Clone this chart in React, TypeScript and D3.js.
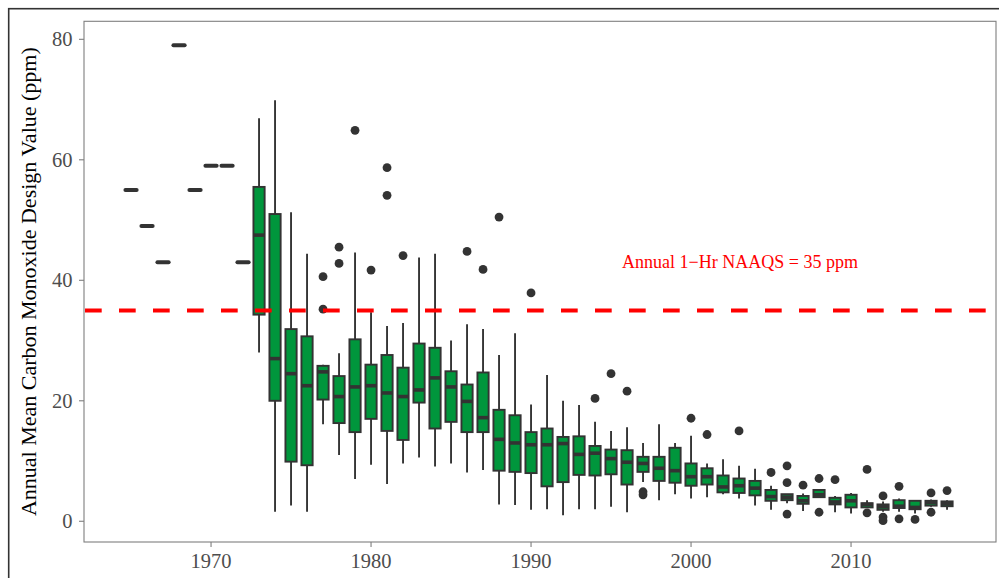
import React from "react";
import * as d3 from "d3";

const years = d3.range(1965, 2017);
// five-number summaries per year (ppm)
const lowerWhisker = [55, 49, 43, 79, 55, 59, 59, 43, 28.0, 1.6, 2.6, 1.6, 16.1, 11.0, 7.0, 9.4, 6.2, 9.6, 10.6, 9.1, 9.6, 8.1, 8.5, 2.8, 2.7, 1.9, 2.0, 1.0, 2.0, 2.0, 2.4, 1.5, 6.5, 3.5, 4.5, 3.8, 4.0, 4.5, 3.8, 2.6, 1.9, 3.0, 1.7, 4.0, 1.5, 1.3, 2.2, 1.6, 1.6, 1.3, 2.4, 1.9];
const q1 = [55, 49, 43, 79, 55, 59, 59, 43, 34.3, 20.0, 9.9, 9.3, 20.2, 16.3, 14.8, 17.0, 15.0, 13.5, 19.7, 15.4, 16.5, 14.8, 14.8, 8.4, 8.2, 8.0, 5.8, 6.5, 7.7, 7.6, 7.8, 6.1, 8.2, 6.7, 6.4, 5.9, 6.1, 4.8, 4.7, 4.3, 3.4, 3.5, 2.9, 4.0, 2.8, 2.3, 2.3, 1.9, 2.2, 2.0, 2.6, 2.5];
const medians = [55, 49, 43, 79, 55, 59, 59, 43, 47.5, 27.0, 24.5, 22.5, 24.8, 20.7, 22.3, 22.5, 21.3, 20.7, 21.8, 23.8, 22.3, 19.9, 17.2, 13.6, 13.0, 12.7, 12.7, 12.9, 11.1, 11.3, 10.4, 9.8, 9.6, 8.8, 8.4, 7.4, 7.4, 5.7, 5.9, 5.5, 4.1, 4.0, 3.4, 4.4, 3.2, 3.4, 2.8, 2.4, 2.5, 2.3, 3.1, 2.9];
const q3 = [55, 49, 43, 79, 55, 59, 59, 43, 55.5, 51.0, 31.9, 30.7, 25.8, 24.1, 30.2, 26.0, 27.6, 25.5, 29.5, 28.8, 24.9, 22.7, 24.7, 18.5, 17.6, 14.8, 15.4, 14.0, 14.1, 12.5, 11.9, 11.8, 10.7, 10.7, 12.2, 9.6, 8.8, 7.6, 7.1, 6.7, 5.2, 4.5, 4.2, 5.2, 3.9, 4.4, 3.0, 2.8, 3.5, 3.4, 3.4, 3.3];
const upperWhisker = [55, 49, 43, 79, 55, 59, 59, 43, 66.9, 69.9, 51.3, 44.4, 26.0, 27.9, 44.6, 34.7, 32.4, 32.9, 43.8, 44.4, 30.0, 32.7, 31.9, 27.6, 31.2, 19.4, 24.3, 20.0, 19.3, 16.5, 15.0, 15.6, 13.0, 16.1, 13.0, 14.2, 9.6, 10.3, 9.2, 8.7, 5.9, 4.5, 4.6, 5.2, 4.2, 4.7, 3.5, 3.3, 3.8, 3.4, 3.6, 3.5];

const outlierYears = [1977, 1977, 1978, 1978, 1979, 1980, 1981, 1981, 1982, 1986, 1987, 1988, 1990, 1994, 1995, 1996, 1997, 1997, 2000, 2001, 2003, 2005, 2006, 2006, 2006, 2007, 2008, 2008, 2009, 2011, 2011, 2012, 2012, 2012, 2013, 2013, 2014, 2015, 2015, 2016];
const outlierValues = [40.6, 35.2, 45.5, 42.8, 64.9, 41.7, 58.7, 54.1, 44.1, 44.8, 41.8, 50.5, 37.9, 20.4, 24.5, 21.6, 4.9, 4.4, 17.1, 14.4, 15.0, 8.1, 9.2, 6.4, 1.2, 6.0, 7.1, 1.5, 6.9, 8.6, 1.4, 4.2, 0.7, 0.1, 5.8, 0.4, 0.3, 4.7, 1.5, 5.1];

const xTicks = [1970, 1980, 1990, 2000, 2010];
const yTicks = [0, 20, 40, 60, 80];
const standardValue = 35;
const standardLabel = "Annual 1\u2212Hr NAAQS = 35 ppm";
const yTitle = "Annual Mean Carbon Monoxide Design Value (ppm)";

export default function App() {
  const W = 999, H = 578;
  const left = 84, right = 996, top = 21.3, bottom = 542;
  const x = d3.scaleLinear().domain([1962.06, 2019.06]).range([left, right]);
  const y = d3.scaleLinear().domain([-3.44, 82.99]).range([bottom, top]);
  const halfW = (x(1) - x(0)) * 0.35;
  const dark = "#333333";
  const fill = "#00963C";
  const font = "'Liberation Serif', 'Times New Roman', serif";

  return (
    <div style={{ position: "fixed", left: 0, top: 0, width: W, height: H, background: "#fff" }}>
      <svg width={W} height={H} style={{ display: "block" }}>
        <rect x={0} y={0} width={W} height={H} fill="#fff" />
        <rect x={8.7} y={8.7} width={1100} height={1000} fill="none" stroke="#333" strokeWidth={1.6} />
        <rect x={left} y={top} width={right - left} height={bottom - top} fill="#fff" stroke="#7f7f7f" strokeWidth={1.1} />

        {/* y axis ticks */}
        {yTicks.map((t) => (
          <g key={"y" + t}>
            <line x1={left - 5} x2={left} y1={y(t)} y2={y(t)} stroke="#7f7f7f" strokeWidth={1.1} />
            <text x={72.5} y={y(t)} dy="0.35em" textAnchor="end" fontFamily={font} fontSize={20.5} fill="#4d4d4d">{t}</text>
          </g>
        ))}
        {/* x axis ticks */}
        {xTicks.map((t) => (
          <g key={"x" + t}>
            <line x1={x(t)} x2={x(t)} y1={bottom} y2={bottom + 5} stroke="#7f7f7f" strokeWidth={1.1} />
            <text x={x(t)} y={568} textAnchor="middle" fontFamily={font} fontSize={20.5} fill="#4d4d4d">{t}</text>
          </g>
        ))}
        <text transform={`translate(36,${(top + bottom) / 2}) rotate(-90)`} textAnchor="middle" fontFamily={font} fontSize={22} fill="#000">{yTitle}</text>

        {/* boxes */}
        {years.map((yr, i) => {
          const cx = x(yr);
          const single = q3[i] === q1[i];
          return (
            <g key={"b" + yr}>
              <line x1={cx} x2={cx} y1={y(upperWhisker[i])} y2={y(q3[i])} stroke={dark} strokeWidth={1.9} />
              <line x1={cx} x2={cx} y1={y(q1[i])} y2={y(lowerWhisker[i])} stroke={dark} strokeWidth={1.9} />
              <rect x={cx - halfW} y={y(q3[i])} width={halfW * 2} height={Math.max(0, y(q1[i]) - y(q3[i]))} fill={fill} stroke={dark} strokeWidth={1.9} />
              <line x1={cx - halfW} x2={cx + halfW} y1={y(medians[i])} y2={y(medians[i])} stroke={dark} strokeWidth={single ? 4 : 3.6} strokeLinecap={single ? "round" : "butt"} />
            </g>
          );
        })}
        {outlierYears.map((yr, i) => (
          <circle key={"o" + i} cx={x(yr)} cy={y(outlierValues[i])} r={4.4} fill={dark} />
        ))}

        {/* standard */}
        <line x1={85} x2={right} y1={y(standardValue)} y2={y(standardValue)} stroke="#FF0000" strokeWidth={4} strokeDasharray="16.7 17.3" />
        <text x={740} y={268} textAnchor="middle" fontFamily={font} fontSize={18} fill="#FF0000">{standardLabel}</text>
      </svg>
    </div>
  );
}
